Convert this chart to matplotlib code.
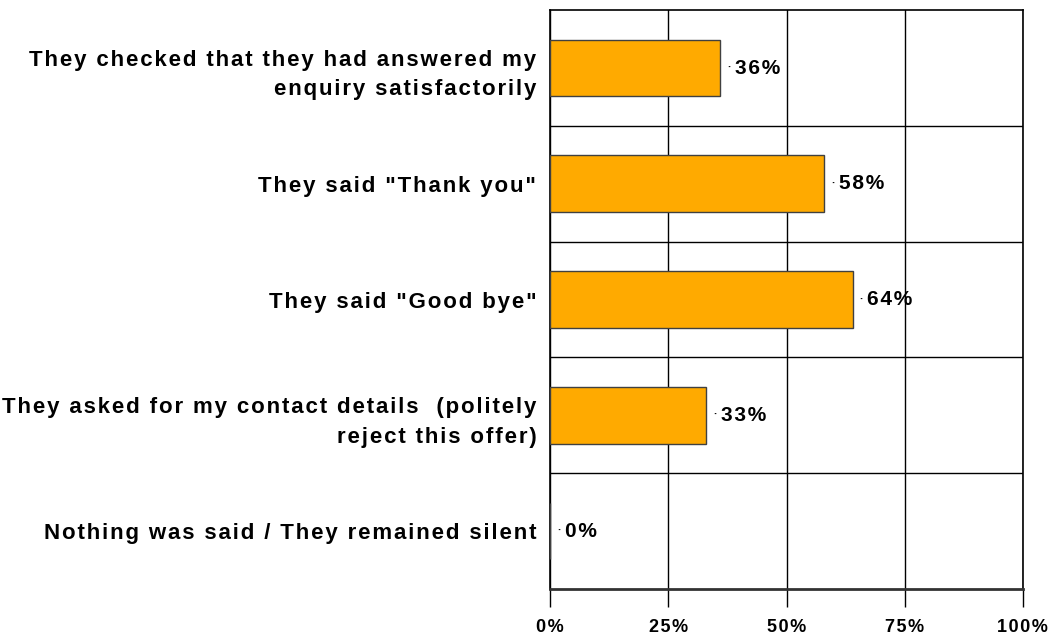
import matplotlib.pyplot as plt
from matplotlib.ticker import FixedLocator, FuncFormatter

plt.rcParams['font.family'] = ['Liberation Sans', 'DejaVu Sans']

categories = [
    'They checked that they had answered my\nenquiry satisfactorily',
    'They said "Thank you"',
    'They said "Good bye"',
    'They asked for my contact details  (politely\nreject this offer)',
    'Nothing was said / They remained silent',
]
values = [36, 58, 64, 33, 0]
xticks = [0, 25, 50, 75, 100]
bar_color = '#FFAA00'

HAIR = '\u200a'


def spaced(s):
    # widen the tracking a little with hair spaces between letters
    return '\n'.join(HAIR.join(line) for line in s.split('\n'))


def main():
    fig = plt.figure(figsize=(10.6, 6.36), dpi=100)
    ax = fig.add_axes([0.519, 0.074, 0.446, 0.910])

    pos = list(range(len(categories)))
    ax.barh(pos, values, height=0.49, color=bar_color, edgecolor='#404040',
            linewidth=1.0, zorder=3)

    ax.set_xlim(0, 100)
    ax.set_ylim(len(categories) - 0.5, -0.5)

    ax.set_xticks(xticks)
    ax.xaxis.set_major_formatter(FuncFormatter(lambda v, p: spaced(f'{v:.0f}%')))
    ax.tick_params(axis='x', length=13, width=1, pad=9, labelsize=13)
    for lab in ax.get_xticklabels():
        lab.set_fontweight('bold')

    ax.set_yticks(pos)
    ax.set_yticklabels([spaced(c) for c in categories], fontsize=16,
                       fontweight='bold', ha='right', linespacing=1.55)
    ax.tick_params(axis='y', length=0, pad=10)
    ax.yaxis.set_minor_locator(FixedLocator([p + 0.5 for p in pos[:-1]]))
    ax.tick_params(axis='y', which='minor', length=0)

    ax.grid(axis='x', which='major', color='black', linewidth=1.0, zorder=0)
    ax.grid(axis='y', which='minor', color='black', linewidth=1.0, zorder=0)
    ax.grid(axis='y', which='major', visible=False)
    ax.set_axisbelow(True)

    for sp in ax.spines.values():
        sp.set_color('black')
        sp.set_linewidth(1.2)
    ax.spines['bottom'].set_linewidth(2.0)
    ax.spines['bottom'].set_color('#333333')

    # little leader dot followed by the value
    for p, v in zip(pos, values):
        ax.annotate('·', (v, p), xytext=(5, 0), textcoords='offset points',
                    ha='left', va='center', fontsize=8, fontweight='bold')
        ax.annotate(spaced(f'{v}%'), (v, p), xytext=(10.5, 0),
                    textcoords='offset points', ha='left', va='center',
                    fontsize=15, fontweight='bold')

    fig.savefig('out.png', dpi=100)


if __name__ == "__main__":
    main()
